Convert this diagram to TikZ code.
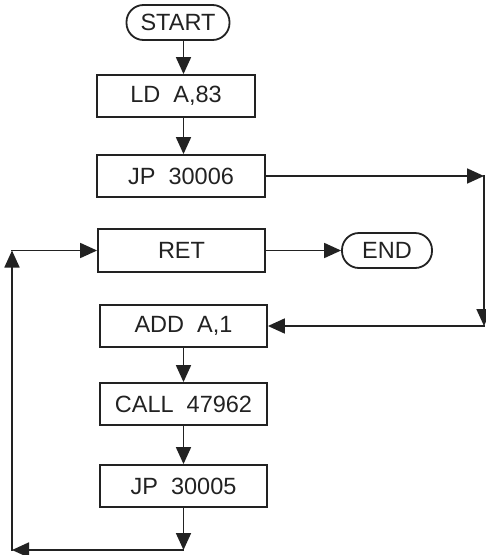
\documentclass[tikz,border=0pt]{standalone}
\usepackage{fontspec}
\setmainfont{Liberation Sans}
\usetikzlibrary{arrows.meta}
\definecolor{ink}{HTML}{222222}
\begin{document}
\begin{tikzpicture}[x=1pt,y=-1pt,
  lbl/.style={font=\fontsize{23.5}{23.5}\selectfont, text=ink},
  box/.style={lbl, draw=ink, line width=1.8pt, minimum height=42pt, inner sep=0pt},
  term/.style={lbl, draw=ink, line width=1.8pt, rounded corners=17pt, minimum height=35pt, inner sep=0pt},
  arr/.style={draw=ink, line width=1.8pt, line cap=rect, -{Triangle[length=17pt,width=15pt]}},
]
\path[use as bounding box] (0,0) rectangle (486,555);
\node[term, minimum width=103pt] (start) at (178,22.5) {START};
\node[box, minimum width=158pt] (ld) at (176,96) {LD\ \ A,83};
\node[box, minimum width=168pt] (jp1) at (181,176) {JP\ \ 30006};
\node[box, minimum width=167pt, minimum height=43pt] (ret) at (181.5,250.5) {RET};
\node[term, minimum width=90pt] (end) at (387,250.5) {END};
\node[box, minimum width=167pt] (add) at (183.5,326) {ADD\ \ A,1};
\node[box, minimum width=167pt] (call) at (183.5,404) {CALL\ \ 47962};
\node[box, minimum width=167pt] (jp2) at (183.5,486) {JP\ \ 30005};
\coordinate (r1) at (484,176);
\coordinate (r2) at (484,326);
\coordinate (b1) at (183.5,550);
\coordinate (l1) at (12,550);
\coordinate (l2) at (12,250.5);
\draw[arr] (start.south -| add) -- (ld.north -| add);
\draw[arr] (ld.south -| add) -- (jp1.north -| add);
\draw[arr] (jp1.east) -- (r1);
\draw[arr] (r1) -- (r2);
\draw[arr] (r2) -- (add.east);
\draw[arr] (ret) -- (end);
\draw[arr] (add) -- (call);
\draw[arr] (call) -- (jp2);
\draw[arr] (jp2) -- (b1);
\draw[arr] (b1) -- (l1);
\draw[arr] (l1) -- (l2);
\draw[arr] (l2) -- (ret.west);
\end{tikzpicture}
\end{document}
